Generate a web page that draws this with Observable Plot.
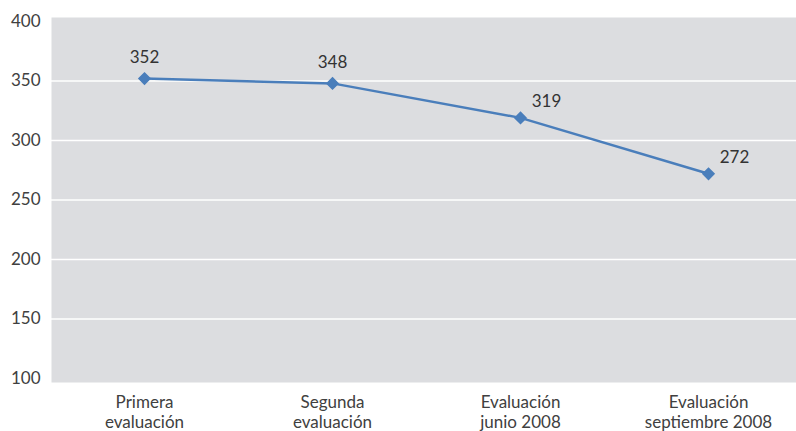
<!DOCTYPE html>
<html>
<head>
<meta charset="utf-8">
<script src="https://cdn.jsdelivr.net/npm/d3@7"></script>
<script src="https://cdn.jsdelivr.net/npm/@observablehq/plot@0.6"></script>
<style>
  html, body { margin: 0; padding: 0; background: #fff; }
  #chart svg { display: block; }
</style>
</head>
<body>
<div id="chart"></div>
<script>
const categories = ["Primera\nevaluación", "Segunda\nevaluación", "Evaluación\njunio 2008", "Evaluación\nseptiembre 2008"];
const values = [352, 348, 319, 272];
const yTicks = [100, 150, 200, 250, 300, 350, 400];
const gridValues = [150, 200, 250, 300, 350];

const data = categories.map((c, i) => ({category: c, value: values[i], idx: i}));

const chart = Plot.plot({
  width: 796,
  height: 431,
  marginLeft: 51,
  marginRight: 0,
  marginTop: 21,
  marginBottom: 53,
  style: {fontFamily: "Lato, 'Open Sans', sans-serif", fontSize: "16px", color: "#404040", background: "#fff"},
  x: {type: "point", domain: categories, range: [143, 709], padding: 0, label: null},
  y: {domain: [100, 400], label: null},
  marks: [
    Plot.frame({fill: "#dcdde0", stroke: null, insetTop: -4, insetBottom: -4}),
    Plot.ruleY(gridValues, {stroke: "#ffffff", strokeWidth: 1.5}),
    Plot.axisY({ticks: yTicks, tickSize: 0, tickPadding: 11, fontSize: 17, fill: "#404040"}),
    Plot.axisX({tickSize: 0, tickPadding: 16, fontSize: 17, fill: "#404040", lineHeight: 1.15}),
    Plot.line(data, {x: "category", y: "value", stroke: "#4a7ebb", strokeWidth: 2.5}),
    Plot.dot(data, {x: "category", y: "value", symbol: "diamond2", r: 5, fill: "#4a7ebb", stroke: "#4a7ebb"}),
    Plot.text(data.filter(d => d.idx < 2), {x: "category", y: "value", text: d => String(d.value), dy: -21, fontSize: 17, fill: "#333"}),
    Plot.text(data.filter(d => d.idx >= 2), {x: "category", y: "value", text: d => String(d.value), dx: 26, dy: -16, fontSize: 17, fill: "#333"})
  ]
});
document.getElementById("chart").appendChild(chart);
</script>
</body>
</html>
